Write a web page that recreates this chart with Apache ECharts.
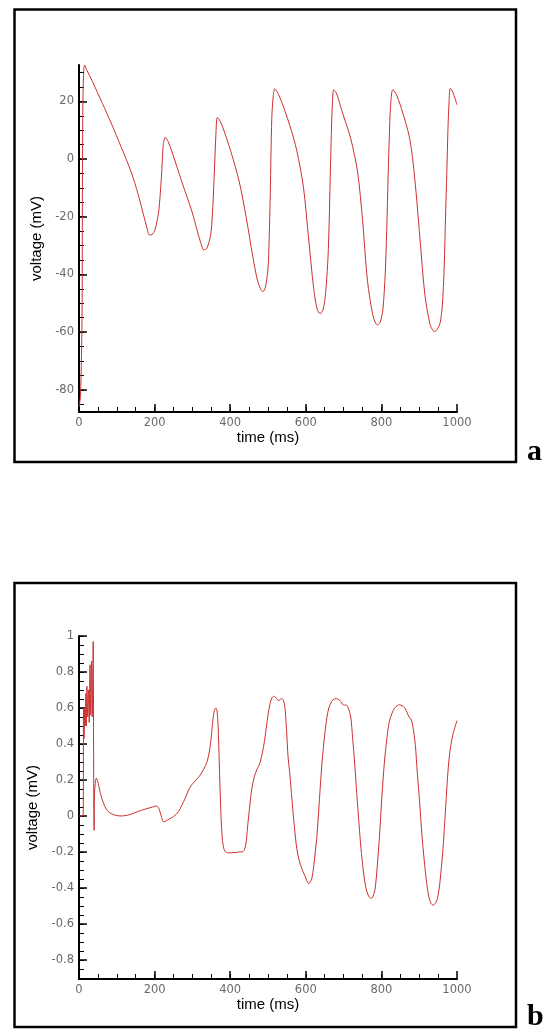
<!DOCTYPE html>
<html>
<head>
<meta charset="utf-8">
<style>
  html, body { margin: 0; padding: 0; background: #fff; }
  #chart { width: 545px; height: 1032px; }
</style>
<script src="https://cdn.jsdelivr.net/npm/echarts@6/dist/echarts.min.js"></script>
</head>
<body>
<div id="chart"></div>
<script>
// panel a: membrane voltage (mV) vs time (ms)
var timeA = [0, 4, 8, 9, 10, 12, 15, 20, 36, 49, 62, 85, 112, 138, 156, 170, 180, 186, 193, 201,
    210, 215, 219, 223, 228, 236, 246, 272, 299, 312, 322, 330, 338, 348, 353, 357, 362, 366, 372, 379,
    402, 424, 442, 460, 472, 480, 486, 493, 500, 503, 506, 510, 514, 518, 531, 558, 576, 594, 607, 621,
    630, 638, 646, 652, 658, 661, 664, 667, 670, 674, 682, 696, 719, 737, 750, 763, 777, 785, 790, 797,
    804, 810, 814, 818, 821, 824, 830, 838, 853, 875, 888, 902, 915, 929, 937, 942, 948, 955, 961, 966,
    970, 973, 976, 979, 982, 986, 991, 1000];
var voltA = [-86, -82, -55, -10, 15, 29, 32.6, 31, 26.8, 23, 19.3, 12.5, 4, -4.5, -12, -19, -24, -26.3, -26.2, -24.5,
    -19, -12, -4, 5, 7.5, 6, 2.5, -7.9, -18.3, -24.5, -29, -31.5, -31, -26.5, -19, -8, 8, 14.4, 13.5, 11.5,
    2.5, -7.9, -20, -34, -42, -45, -46, -44.5, -38, -28, -12, 14, 22, 24.3, 21.5, 11.5, 3, -10, -27, -45,
    -52, -53.6, -52, -47, -36, -26, -10, 6, 18, 24, 22.5, 16.5, 7, -4.5, -21, -42, -54, -57, -57.5, -56.5,
    -52, -40, -25, -5, 8, 18, 24, 22.8, 17.5, 7, -6.5, -27.5, -47, -57.5, -59.5, -59.8, -59, -57, -51, -38,
    -18, -5, 10, 20, 24.5, 24, 22.5, 18.8];

// panel b: voltage (mV) vs time (ms)
var timeB = [0, 11, 12, 13.5, 15, 16.5, 18, 19.5, 21, 23, 25, 27, 29, 31, 33, 35, 37.5, 39, 40, 41,
    43, 46, 50, 54, 60, 67, 75, 85, 100, 115, 135, 155, 175, 195, 205, 210, 214, 219, 223, 228,
    240, 250, 263, 272, 281, 290, 299, 310, 321, 330, 339, 345, 350, 354, 358, 362, 365, 368, 371, 374,
    377, 381, 386, 395, 410, 425, 433, 438, 442, 446, 451, 457, 464, 471, 478, 485, 491, 496, 500, 505,
    510, 515, 520, 525, 529, 533, 537, 541, 545, 549, 553, 558, 563, 568, 576, 583, 589, 597, 603, 607,
    611, 616, 621, 625, 629, 636, 643, 650, 656, 661, 668, 675, 681, 688, 693, 697, 702, 706, 710, 714,
    719, 724, 729, 735, 741, 746, 752, 759, 766, 772, 777, 783, 789, 795, 801, 808, 815, 821, 828, 835,
    842, 848, 855, 862, 868, 873, 878, 882, 886, 890, 895, 901, 907, 913, 919, 925, 931, 937, 943, 948,
    953, 958, 963, 968, 973, 977, 982, 990, 1000];
var voltB = [0, 0, 0.6, 0.43, 0.6, 0.5, 0.68, 0.5, 0.72, 0.55, 0.7, 0.52, 0.84, 0.56, 0.86, 0.55, 0.97, 0.1, -0.08, 0.12,
    0.18, 0.21, 0.19, 0.15, 0.1, 0.06, 0.03, 0.013, 0.002, 0, 0.008, 0.024, 0.038, 0.05, 0.056, 0.048, 0.025, -0.01, -0.032, -0.03,
    -0.015, -0.004, 0.024, 0.06, 0.098, 0.145, 0.175, 0.2, 0.228, 0.26, 0.302, 0.36, 0.44, 0.53, 0.585, 0.6, 0.585, 0.5, 0.3, 0.1,
    -0.06, -0.16, -0.195, -0.205, -0.204, -0.2, -0.199, -0.185, -0.15, -0.06, 0.04, 0.15, 0.22, 0.26, 0.29, 0.35, 0.42, 0.5, 0.56, 0.62,
    0.655, 0.665, 0.66, 0.645, 0.64, 0.65, 0.652, 0.64, 0.6, 0.48, 0.33, 0.228, 0.1, -0.02, -0.18, -0.25, -0.29, -0.33, -0.36, -0.375,
    -0.37, -0.347, -0.28, -0.2, -0.124, 0.09, 0.3, 0.45, 0.55, 0.6, 0.635, 0.65, 0.652, 0.645, 0.635, 0.62, 0.615, 0.618, 0.61, 0.59,
    0.55, 0.43, 0.3, 0.12, -0.05, -0.18, -0.3, -0.4, -0.445, -0.458, -0.45, -0.41, -0.28, -0.11, 0.1, 0.3, 0.44, 0.525, 0.57, 0.6,
    0.613, 0.618, 0.612, 0.6, 0.575, 0.55, 0.54, 0.51, 0.46, 0.39, 0.24, 0.08, -0.1, -0.24, -0.36, -0.445, -0.485, -0.496, -0.485, -0.46,
    -0.4, -0.3, -0.18, -0.02, 0.15, 0.27, 0.37, 0.46, 0.53];

// tick values
var timeTicks = [0, 200, 400, 600, 800, 1000];
var yTicksA = [-80, -60, -40, -20, 0, 20];
var yTicksB = [-0.8, -0.6, -0.4, -0.2, 0, 0.2, 0.4, 0.6, 0.8, 1];

var chart = echarts.init(document.getElementById('chart'));

// minor ticks: every 5 mV in a, every 0.05 mV in b
var minorA = [];
for (var i = -85; i <= 30; i += 5) minorA.push(i);
var minorB = [];
for (var j = -18; j <= 20; j++) minorB.push(Math.round(j * 5) / 100);

function pairs(xs, ys) {
    return xs.map(function (x, k) { return [x, ys[k]]; });
}

var labelFont = { color: '#6a6a6a', fontSize: 11.5, fontFamily: 'DejaVu Sans' };
var nameFont = { color: '#000', fontSize: 15, fontFamily: 'Liberation Sans' };
var lineCol = '#000';

function xAxisFor(gridIndex) {
    return {
        type: 'value', gridIndex: gridIndex, min: 0, max: 1000,
        name: 'time (ms)', nameLocation: 'middle', nameGap: 17, nameTextStyle: nameFont,
        axisLine: { show: true, onZero: false, lineStyle: { color: lineCol, width: 2 } },
        axisTick: { show: true, inside: true, length: 8, customValues: timeTicks, lineStyle: { color: lineCol, width: 1.5 } },
        axisLabel: Object.assign({
            margin: 5, customValues: timeTicks,
            formatter: function (v) { return String(v); }
        }, labelFont),
        splitLine: { show: false }
    };
}

function xMinor(gridIndex) {
    var vals = [];
    for (var t = 50; t < 1000; t += 50) vals.push(t);
    return {
        type: 'value', gridIndex: gridIndex, min: 0, max: 1000, position: 'bottom',
        axisLine: { show: false, onZero: false },
        axisTick: { show: true, inside: true, length: 5, customValues: vals, lineStyle: { color: lineCol, width: 1 } },
        axisLabel: { show: false },
        splitLine: { show: false }
    };
}

function yMajor(gridIndex, min, max, ticks) {
    return {
        type: 'value', gridIndex: gridIndex, min: min, max: max, position: 'left',
        name: 'voltage (mV)', nameLocation: 'middle', nameGap: 26, nameTextStyle: nameFont,
        axisLine: { show: true, onZero: false, lineStyle: { color: lineCol, width: 2 } },
        axisTick: { show: true, inside: true, length: 8, customValues: ticks, lineStyle: { color: lineCol, width: 1.5 } },
        axisLabel: Object.assign({ margin: 5, customValues: ticks }, labelFont),
        splitLine: { show: false }
    };
}

function yMinor(gridIndex, min, max, ticks) {
    return {
        type: 'value', gridIndex: gridIndex, min: min, max: max, position: 'left', offset: 0,
        axisLine: { show: false, onZero: false },
        axisTick: { show: true, inside: true, length: 5, customValues: ticks, lineStyle: { color: lineCol, width: 1 } },
        axisLabel: { show: false },
        splitLine: { show: false }
    };
}

var option = {
    animation: false,
    backgroundColor: '#fff',
    grid: [
        { left: 79, top: 65, width: 378, height: 347 },
        { left: 79, top: 636, width: 378, height: 343 }
    ],
    xAxis: [xAxisFor(0), xMinor(0), xAxisFor(1), xMinor(1)],
    yAxis: [
        yMajor(0, -87.7, 32.6, yTicksA),
        yMinor(0, -87.7, 32.6, minorA),
        yMajor(1, -0.906, 1, yTicksB),
        yMinor(1, -0.906, 1, minorB)
    ],
    series: [{
        type: 'line', xAxisIndex: 0, yAxisIndex: 0,
        data: pairs(timeA, voltA),
        showSymbol: false, smooth: 0.3,
        lineStyle: { color: '#cc3030', width: 1 }
    }, {
        type: 'line', xAxisIndex: 2, yAxisIndex: 2,
        data: pairs(timeB, voltB),
        showSymbol: false, smooth: 0.3,
        lineStyle: { color: '#cc3030', width: 1 }
    }],
    graphic: [
        { type: 'rect', shape: { x: 14.5, y: 9.5, width: 501.5, height: 452.5 },
          style: { fill: 'none', stroke: '#000', lineWidth: 2.5 } },
        { type: 'rect', shape: { x: 14.5, y: 583, width: 501.5, height: 444 },
          style: { fill: 'none', stroke: '#000', lineWidth: 2.5 } },
        { type: 'text', x: 527, y: 452,
          style: { text: 'a', font: 'bold 30px "Liberation Serif"', fill: '#000', verticalAlign: 'middle' } },
        { type: 'text', x: 527, y: 1017,
          style: { text: 'b', font: 'bold 30px "Liberation Serif"', fill: '#000', verticalAlign: 'middle' } }
    ]
};

chart.setOption(option);

window.addEventListener('resize', function () {
    chart.resize();
});
</script>
</body>
</html>
